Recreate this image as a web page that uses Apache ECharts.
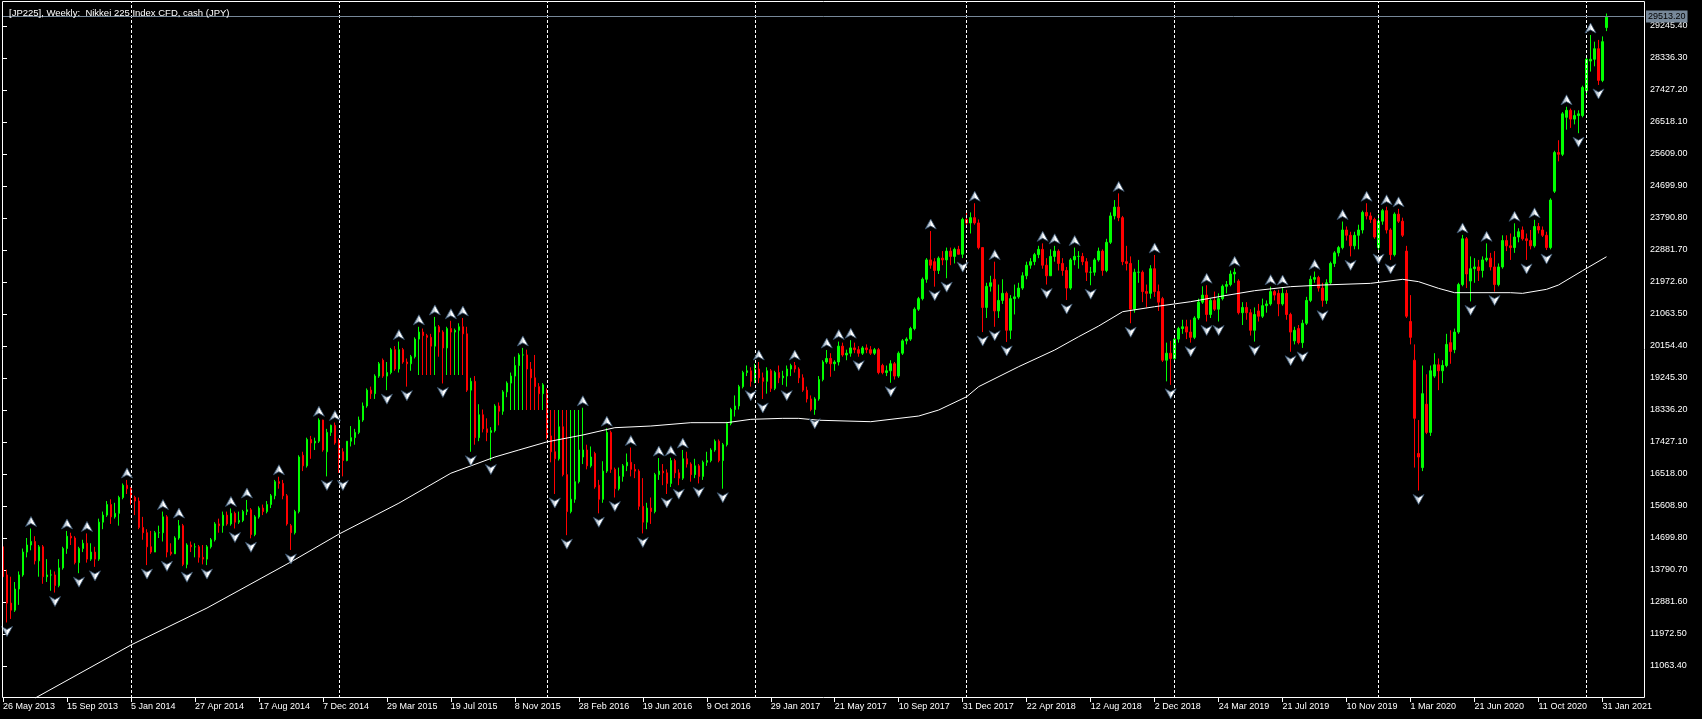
<!DOCTYPE html>
<html><head><meta charset="utf-8">
<script src="https://cdn.jsdelivr.net/npm/echarts@6/dist/echarts.min.js"></script>
<style>html,body{margin:0;padding:0;background:#000;}#c{width:1702px;height:719px;}</style>
</head><body><div id="c"></div>
<script>
const chartTitle = '[JP225], Weekly:  Nikkei 225 Index CFD, cash (JPY)';
const firstWeek = '2013-05-26';
const missingWeeks = ['2019-04-28'];
const priceTicks = [11063.40,11972.50,12881.60,13790.70,14699.80,15608.90,16518.00,17427.10,18336.20,19245.30,20154.40,21063.50,21972.60,22881.70,23790.80,24699.90,25609.00,26518.10,27427.20,28336.30,29245.40];
const currentPrice = 29513.20;
const dateLabelIdx = [0,16,32,48,64,80,96,112,128,144,160,176,192,208,224,240,256,272,288,304,320,336,352,368,384,400];

// weekly bars: [open, high, low, close]
const bars2013 = [
[14450,14600,13400,13600],[13650,13800,12300,12850],[12850,13600,12400,12650],[12650,13450,12600,13250],
[13250,13750,12800,13650],[13650,14400,13600,14300],[14300,14700,14150,14500],[14500,14970,14350,14600],
[14600,14750,13950,14050],[14050,14500,13600,14450],[14450,14500,13400,13600],[13600,14100,13450,13650],
[13650,13800,13200,13650],[13650,13750,13150,13350],[13350,14100,13300,13850],[13850,14450,13800,14400],
[14400,14900,14250,14750],[14750,14850,14500,14700],[14700,14750,13950,14000],[14000,14450,13700,14400],
[14400,14650,14300,14550],[14550,14830,14000,14100],[14100,14550,14050,14300],[14300,14450,13880,14100],
[14100,15250,14050,15150],[15150,15450,14950,15350],[15350,15750,15300,15650],[15650,15800,15100,15300],
[15300,15700,15250,15400],[15400,15900,15050,15850],[15850,16250,15800,16200],[16200,16350,15950,16100]];
const bars2014 = [
[16100,16150,15650,15850],[15850,15900,15350,15750],[15750,15850,14950,15000],[15000,15300,14650,14850],
[14850,14950,13930,14450],[14450,14900,14250,14300],[14300,14900,14300,14850],[14850,15050,14700,14850],
[14850,15450,14600,15300],[15300,15350,14150,14300],[14300,14550,14200,14250],[14250,14750,14250,14700],
[14700,15210,14650,15050],[15050,15100,13900,13950],[13950,14550,13840,14500],[14500,14600,14300,14450],
[14450,14550,14150,14450],[14450,14500,14000,14150],[14150,14500,13950,14100],[14100,14500,13930,14450],
[14450,14700,14400,14650],[14650,15150,14600,15100],[15100,15250,14850,15050],[15050,15450,14850,15350],
[15350,15450,15050,15100],[15100,15540,15050,15400],[15400,15450,14970,15150],[15150,15450,15100,15200],
[15200,15500,15150,15450],[15450,15780,15350,15500],[15500,15550,14690,14800],[14800,15350,14750,15300],
[15300,15600,15250,15550],[15550,15650,15350,15450],[15450,15750,15400,15650],[15650,15950,15550,15900],
[15900,16350,15800,16300],[16300,16440,16100,16250],[16250,16350,15800,15900],[15900,15950,15050,15100],
[15050,15100,14360,14850],[14850,15500,14800,15450],[15450,17050,15400,17000],[17050,17150,16600,16750],
[16750,17550,16700,17500],[17500,17600,16950,17400],[17400,17550,17200,17450],[17450,18100,17400,18050],
[18050,18060,17150,17200],[17150,17800,16450,17700],[17700,17920,17600,17900],[17900,17980,17350,17400]];
const bars2015 = [
[17400,17530,16550,16950],[17150,17250,16450,16900],[16900,17450,16880,17450],[17450,17880,17300,17550],
[17550,17800,17350,17700],[17700,18150,17650,18050],[18050,18550,18000,18450],[18450,18950,18400,18900],
[18900,19000,18650,18800],[18800,19350,18650,19300],[19300,19700,19250,19650],[19750,19800,19250,19300],
[19300,19700,18900,19400],[19400,20100,19350,20050],[20050,20150,19450,19500],[19500,20280,19400,20050],
[20050,20100,19650,19700],[19700,19800,19000,19650],[19650,19900,19450,19850],[19850,20400,19800,20350],
[20350,20700,19330,20550],[20550,20650,19330,20450],[20450,20500,19330,20400],[20400,20500,19330,20150],
[20150,20980,19330,20700],[20700,20750,19850,20550],[20550,20600,19090,20100],[20100,20700,19330,20650],
[20650,20870,19330,20550],[20550,20650,19330,20600],[20600,20800,19330,20700],[20700,20950,19330,20500],
[20500,20700,18850,18900],[18900,19250,17150,19150],[19150,19300,17350,17550],[17550,18500,17450,18200],
[18200,18350,17700,17800],[17800,18100,17450,17700],[17700,17850,16900,17750],[17750,18500,17700,18450],
[18450,18550,17900,18300],[18300,18900,18200,18850],[18850,19150,18700,19100],[19100,19400,18336,19300],
[19300,19850,18336,19600],[19600,19950,18336,19900],[19900,20100,18336,19900],[19900,20050,18336,19500],
[19500,19700,18336,19250],[19250,19900,18336,19000],[19000,19100,18336,18800],[18800,19100,18336,19050]];
const bars2016 = [
[18800,18950,17500,17600],[17600,18336,16850,17150],[17150,18336,15950,16950],[16950,18336,16900,17860],
[17860,18336,16450,16500],[16500,18336,14780,15450],[15450,18336,15400,15800],[15800,18336,15700,16300],
[16300,18336,16250,17200],[17000,18400,16800,17200],[17200,17350,16650,16750],[16750,17300,16700,17000],
[17100,17150,16100,16150],[16200,16350,15400,15800],[15800,16880,15700,16600],[16600,17820,16550,17700],
[17700,17750,16550,16650],[16650,16700,15850,16100],[16100,16700,16050,16450],[16450,16800,16300,16750],
[16750,17100,16600,16850],[16850,17270,16450,16650],[16650,16800,16400,16600],[16600,16650,15500,15600],
[15600,16400,14830,15150],[15150,15700,14950,15550],[15550,15850,15100,15450],[15450,16550,15400,16500],
[16500,16970,16350,16600],[16600,16800,16200,16550],[16550,16650,15950,16250],[16250,16980,16150,16900],
[16900,16950,16400,16550],[16550,16650,16200,16400],[16400,17200,16350,16950],[16950,17150,16700,16800],
[16800,16850,16300,16500],[16500,16950,16400,16750],[16750,16800,16250,16450],[16450,16900,16350,16850],
[16850,17150,16750,16900],[16900,17250,16850,17200],[17200,17500,17150,17450],[17450,17500,16850,16900],
[16900,17400,16100,17350],[17350,18000,17300,17950],[17950,18400,17900,18350],[18350,18750,18150,18450],
[18450,19050,18350,19000],[19000,19450,18950,19400],[19400,19600,19300,19450],[19450,19550,19000,19150]];
const bars2017 = [
[19150,19650,19100,19500],[19500,19700,19100,19250],[19250,19400,18650,19150],[19150,19550,18800,19450],
[19450,19500,18850,18950],[18950,19450,18900,19400],[19400,19600,19100,19250],[19250,19450,19050,19300],
[19300,19600,19000,19500],[19500,19650,19300,19600],[19600,19700,19400,19500],[19500,19550,19100,19250],
[19250,19350,18850,18900],[18900,19000,18550,18650],[18650,18750,18300,18350],[18350,18700,18200,18650],
[18650,19300,18600,19200],[19200,19750,19150,19700],[19700,20040,19650,19800],[19800,19950,19280,19650],
[19650,19750,19450,19700],[19700,20280,19600,20150],[20150,20250,19850,19900],[19900,20050,19750,19950],
[19950,20320,19850,20100],[20100,20250,19950,20050],[20050,20150,19850,19950],[19950,20150,19900,20100],
[20100,20200,19950,20050],[20050,20150,19900,19950],[19950,20100,19900,20050],[20050,20100,19350,19400],
[19600,19650,19350,19400],[19400,19600,19300,19450],[19450,19750,19110,19650],[19650,19700,19200,19300],
[19300,20000,19250,19950],[19950,20350,19900,20300],[20300,20400,20200,20350],[20350,20700,20300,20650],
[20650,21250,20600,21200],[21200,21550,21150,21500],[21500,22100,21450,22050],[22050,22650,21950,22600],
[22600,23420,22350,22450],[22550,22650,21840,22300],[22300,22700,22200,22650],[22650,22850,22450,22600],
[22600,22950,22080,22850],[22850,22950,22450,22700],[22700,22950,22500,22900],[22900,23000,22760,22760],
[22760,23800,22650,23750]];
const bars2018 = [
[23750,23950,23550,23650],[23650,23950,23350,23800],[23800,24210,23600,23650],[23650,23750,22900,22950],
[22950,22950,20550,21250],[21250,21950,20950,21850],[21850,22150,21700,21950],[22050,22550,20700,21150],
[21150,21900,20950,21450],[21450,22050,21350,21650],[21650,21700,20270,20600],[20600,21600,20350,21500],
[21500,21900,21050,21550],[21550,21950,21500,21800],[21800,22250,21750,22150],[22150,22550,22050,22450],
[22450,22650,22350,22550],[22550,22800,22450,22750],[22750,23000,22650,22900],[22900,23070,22350,22450],
[22450,22650,21900,22150],[22150,22900,22150,22700],[22700,23000,22550,22850],[22850,22900,22300,22500],
[22500,22650,22150,22300],[22300,22400,21460,21800],[21800,22650,21750,22600],[22600,22950,22450,22700],
[22700,22850,22350,22700],[22700,22800,22450,22550],[22550,22650,22000,22250],[22250,22400,21880,22250],
[22250,22650,22150,22600],[22600,22950,22550,22850],[22850,22900,22150,22300],[22300,23200,22250,23100],
[23100,23950,23050,23850],[23850,24300,23750,24100],[24100,24490,23700,23800],[23800,23850,22450,22550],
[22550,23000,22300,22500],[22500,22700,20800,21200],[21200,22350,21100,22250],[22250,22600,21950,22250],
[22250,22300,21400,21700],[21700,21900,21250,21650],[21650,22450,21500,22350],[22350,22740,21550,21700],
[21700,21900,21150,21400],[21500,21550,19700,19750],[19750,20250,19150,19950],[19950,20300,19050,19800]];
const bars2019 = [
[19800,20450,19750,20350],[20350,20700,20250,20650],[20650,20900,20500,20700],[20700,20900,20350,20550],
[20550,20900,20250,20400],[20400,21000,20350,20950],[20950,21500,20900,21400],[21400,21850,21350,21600],
[21600,21880,20850,21050],[21050,21500,20950,21450],[21450,21700,21150,21200],[21200,21650,20850,21500],
[21500,21900,21450,21850],[21850,22000,21650,21900],[21900,22300,21850,22200],[22200,22360,21950,22250],
[22000,22050,21050,21100],[21100,21400,20750,21250],[21250,21400,20900,21100],[21100,21200,20450,20600],
[20600,21250,20280,21050],[21150,21350,20850,21000],[21000,21500,20950,21300],[21300,21450,21100,21350],
[21350,21840,21300,21700],[21700,21750,21450,21600],[21650,21750,21000,21350],[21350,21830,21300,21650],
[21650,21750,20900,21050],[21050,21100,19990,20550],[20300,20700,20200,20600],[20650,20750,20200,20250],
[20250,20900,20100,20800],[20800,21550,20750,21450],[21450,22150,21400,22050],[22050,22270,21950,22100],
[22100,22150,21700,21800],[21800,21950,21270,21450],[21450,22050,21350,21950],[21950,22550,21900,22500],
[22500,22850,22400,22800],[22800,23000,22700,22950],[22950,23690,22900,23450],[23450,23550,23150,23300],
[23300,23400,22700,23000],[23000,23400,22900,23300],[23300,23600,22900,23450],[23450,24000,23350,23950],
[23950,24210,23750,23850],[23850,23950,23650,23750],[23750,23800,23200,23250]];
const bars2020 = [
[22950,23900,22880,23700],[23700,24050,23600,24000],[24000,24110,23350,23450],[23450,23500,22600,22750],
[22750,23950,22700,23900],[23900,24050,23650,23700],[23700,23800,23250,23300],[22850,23000,20950,21000],
[20850,21600,20200,20400],[19750,20200,16700,18100],[17100,18050,16050,17000],[16700,19600,16600,18800],
[18500,19350,17650,17700],[17700,19600,17600,19450],[19300,19950,19250,19620],[19620,19800,18900,19450],
[19450,19750,19100,19600],[19600,20500,19550,20200],[20250,20600,19650,20000],[20050,20650,19950,20550],
[20550,21950,20500,21900],[21900,23310,21850,23200],[23200,23250,21800,22200],[22000,22700,21420,22350],
[22350,22650,21950,22400],[22400,22600,22000,22300],[22300,22700,22100,22600],[22600,23070,22550,22650],
[22650,22800,22300,22400],[22400,22850,21700,21900],[21900,22500,21850,22400],[22400,23300,22350,23150],
[23150,23300,22850,23000],[23000,23350,22600,22950],[22950,23640,22800,23250],[23250,23500,23100,23400],
[23450,23550,23150,23200],[23200,23350,22600,23150],[23150,23450,22900,23000],[23000,23740,22950,23550],
[23550,23650,23350,23450],[23450,23550,23250,23300],[23300,23400,22880,22950],[22950,24350,22900,24300],
[24550,25700,24500,25650],[25650,26000,25400,25600],[25600,26800,25550,26750],[26650,26950,26300,26850],
[26850,26900,26350,26600],[26600,26850,26450,26700],[26700,26850,26200,26750],[26700,27550,26650,27500]];
const bars2021 = [
[27400,28400,27250,28300],[28250,28990,27950,28300],[28300,28800,28100,28600],[28600,28850,27570,27700],
[27700,28950,27650,28800],[29200,29600,29100,29513.2]];

// 100-week moving average read at sample bars: [bar index, value]
const ma100 = [[8,10150],[32,11660],[51,12710],[72,14020],[84,14810],[99,15690],[112,16540],[123,17000],
[129,17200],[136,17430],[145,17626],[153,17834],[162,17881],[172,17976],[181,17976],[187,18071],[195,18099],
[199,18099],[204,18045],[217,18004],[229,18165],[234,18336],[241,18714],[244,19000],[254,19567],[263,20040],
[269,20419],[274,20722],[280,21129],[288,21271],[297,21413],[305,21574],[313,21726],[322,21840],[330,21887],
[342,21934],[350,22048],[354,21982],[359,21792],[363,21669],[377,21669],[380,21650],[386,21764],[389,21887],
[395,22294],[401,22690]];

// fractal markers (bar indices)
const upFractals = [7,16,21,31,40,44,57,61,69,79,83,99,104,108,112,115,130,145,151,157,164,167,170,189,198,206,209,212,232,243,248,260,263,268,279,288,301,308,317,320,328,335,341,346,349,365,371,378,383,391,397];
const downFractals = [1,13,19,23,36,41,46,51,58,62,72,81,85,96,101,110,117,122,138,141,149,153,160,166,169,174,180,187,190,196,203,214,222,233,236,240,245,248,251,261,266,272,282,292,297,301,304,313,322,325,330,337,344,347,354,367,373,381,386,394,399];

// ---------- build ----------
const bars = [].concat(bars2013,bars2014,bars2015,bars2016,bars2017,bars2018,bars2019,bars2020,bars2021);
const MONTHS = ['Jan','Feb','Mar','Apr','May','Jun','Jul','Aug','Sep','Oct','Nov','Dec'];
const dates = [];
(function(){
  let d = new Date(firstWeek + 'T00:00:00Z');
  const miss = missingWeeks.map(s => new Date(s + 'T00:00:00Z').getTime());
  for (let i = 0; i < bars.length; i++) {
    while (miss.indexOf(d.getTime()) >= 0) d = new Date(d.getTime() + 7*86400000);
    dates.push(d);
    d = new Date(d.getTime() + 7*86400000);
  }
})();
const fmtDate = d => d.getUTCDate() + ' ' + MONTHS[d.getUTCMonth()] + ' ' + d.getUTCFullYear();
const yearStarts = [];
for (let i = 1; i < dates.length; i++) if (dates[i].getUTCFullYear() !== dates[i-1].getUTCFullYear()) yearStarts.push(i);

const candleData = bars.map((b, i) => [i, b[0], b[3], b[2], b[1]]);
const upData = upFractals.map(i => [i, bars[i][1]]);
const dnData = downFractals.map(i => [i, bars[i][2]]);

const FONT = 'Liberation Sans, Arial, sans-serif';
const arrowFill = {type: 'linear', x: 0, y: 0, x2: 1, y2: 0, colorStops: [
  {offset: 0, color: '#8a9cb0'}, {offset: 0.45, color: '#c8d2dc'}, {offset: 0.55, color: '#ffffff'}, {offset: 1, color: '#ffffff'}]};
const chart = echarts.init(document.getElementById('c'), null, {renderer: 'canvas'});
chart.setOption({
  animation: false,
  backgroundColor: '#000000',
  title: {text: chartTitle, left: 4, top: 3, textStyle: {color: '#ffffff', fontSize: 9.5, fontWeight: 'normal', fontFamily: FONT}},
  grid: {left: 2, right: 58, top: 2, bottom: 21, containLabel: false},
  xAxis: {
    type: 'value', min: -0.125, max: 410.375,
    splitLine: {show: false}, axisLine: {show: false},
    axisTick: {show: true, customValues: dateLabelIdx, length: 4, lineStyle: {color: '#ffffff'}},
    axisLabel: {customValues: dateLabelIdx, formatter: v => fmtDate(dates[Math.round(v)]), color: '#ffffff', fontSize: 9, fontFamily: FONT, align: 'left', margin: 4}
  },
  yAxis: {
    type: 'value', position: 'right', min: 10154.3, max: 29927,
    splitLine: {show: false}, axisLine: {show: false},
    axisTick: {show: true, customValues: priceTicks, length: 4, lineStyle: {color: '#ffffff'}},
    axisLabel: {customValues: priceTicks, formatter: v => Number(v).toFixed(2), color: '#ffffff', fontSize: 9, fontFamily: FONT, margin: 6}
  },
  graphic: [{type: 'rect', silent: true, z: 100, shape: {x: 2.5, y: 1.5, width: 1642, height: 696}, style: {fill: null, stroke: '#ffffff', lineWidth: 1}}],
  series: [
    {
      type: 'candlestick', data: candleData, barWidth: 2,
      itemStyle: {color: '#00ff00', color0: '#ff0000', borderColor: '#00ff00', borderColor0: '#ff0000', borderWidth: 1},
      markLine: {
        silent: true, symbol: ['none','none'], animation: false,
        data: yearStarts.map(i => ({xAxis: i, lineStyle: {color: '#ffffff', type: [3,2], width: 1}, label: {show: false}}))
          .concat([{yAxis: currentPrice, lineStyle: {color: '#778899', type: 'solid', width: 1},
            label: {show: true, position: 'end', formatter: currentPrice.toFixed(2), color: '#000000', backgroundColor: '#778899', fontSize: 9, fontFamily: FONT, padding: [2,2,1,2], distance: 2}}])
      }
    },
    {
      type: 'line', data: ma100, showSymbol: false, symbol: 'none', z: 5,
      lineStyle: {color: '#ffffff', width: 1}, clip: true
    },
    {
      type: 'scatter', data: upData, z: 6, symbol: 'path://M5.5,0 L11,10 L5.5,7 L0,10 Z', symbolSize: [11, 10], symbolOffset: [0, -7],
      itemStyle: {color: arrowFill, borderColor: '#34506c', borderWidth: 0.8, opacity: 1}
    },
    {
      type: 'scatter', data: dnData, z: 6, symbol: 'path://M0,0 L5.5,3 L11,0 L5.5,10 Z', symbolSize: [11, 10], symbolOffset: [0, 9],
      itemStyle: {color: arrowFill, borderColor: '#34506c', borderWidth: 0.8, opacity: 1}
    }
  ]
});
</script></body></html>
